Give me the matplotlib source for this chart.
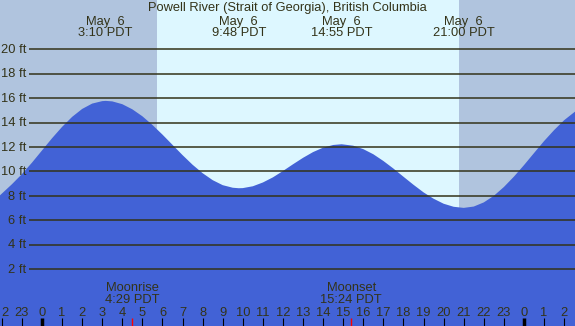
import matplotlib
matplotlib.use("Agg")
import matplotlib.pyplot as plt

# tide heights (ft), hours from midnight May 6
hours = [-2.09, -1.5, -1.0, -0.5, 0.0, 0.5, 1.0, 1.5, 2.0, 2.5, 3.0, 3.17,
         3.5, 4.0, 4.5, 5.0, 5.5, 6.0, 6.5, 7.0, 7.5, 8.0, 8.5, 9.0, 9.5, 9.8,
         10.0, 10.5, 11.0, 11.5, 12.0, 12.5, 13.0, 13.5, 14.0, 14.5, 14.92,
         15.5, 16.0, 16.5, 17.0, 17.5, 18.0, 18.5, 19.0, 19.5, 20.0, 20.5, 21.0,
         21.5, 22.0, 22.5, 23.0, 23.5, 24.0, 24.5, 25.0, 25.5, 26.0, 26.54]
heights = [8.05, 8.95, 9.78, 10.72, 11.72, 12.72, 13.65, 14.47, 15.12, 15.56, 15.76, 15.78,
           15.74, 15.51, 15.09, 14.52, 13.81, 13.02, 12.18, 11.34, 10.55, 9.86, 9.29, 8.88, 8.67, 8.63,
           8.64, 8.79, 9.10, 9.52, 10.04, 10.59, 11.12, 11.59, 11.95, 12.17, 12.23,
           12.11, 11.83, 11.41, 10.86, 10.24, 9.57, 8.91, 8.29, 7.77, 7.36, 7.11, 7.02,
           7.13, 7.47, 8.01, 8.73, 9.58, 10.52, 11.51, 12.49, 13.39, 14.20, 14.90]

levels = [2, 4, 6, 8, 10, 12, 14, 16, 18, 20]

sunrise = 5.73
sunset = 20.77

event_hours = [3.17, 9.80, 14.92, 21.00]
event_dates = ["May  6", "May  6", "May  6", "May  6"]
event_times = ["3:10 PDT", "9:48 PDT", "14:55 PDT", "21:00 PDT"]

moon_hours = [4.48, 15.40]
moon_names = ["Moonrise", "Moonset"]
moon_times = ["4:29 PDT", "15:24 PDT"]

hour_ticks = list(range(-2, 27))

title = "Powell River (Strait of Georgia), British Columbia"

night = "#B0C4DE"
day = "#DDF7FF"
water = "#4262D6"
ink = "#333319"

plt.rcParams["font.family"] = ["Liberation Sans", "DejaVu Sans"]
plt.rcParams["font.size"] = 9.3

fig = plt.figure(figsize=(5.75, 3.26), dpi=100)
ax = fig.add_axes([0, 0, 1, 1])
ax.set_xlim(-2.09, 26.54)
ax.set_ylim(-2.65, 24.04)
ax.axis("off")

ax.axvspan(-3, sunrise, color=night, lw=0)
ax.axvspan(sunrise, sunset, color=day, lw=0)
ax.axvspan(sunset, 28, color=night, lw=0)

ax.fill_between(hours, -3, heights, color=water, lw=0)

ax.hlines(levels, -0.65, 27, color=ink, lw=1.1)
for lv in levels:
    ax.text(-0.8, lv - 0.3, f"{lv} ft", ha="right", va="baseline", color=ink)

ax.text(12.2, 23.1, title, ha="center", va="baseline", color=ink)
for h, d, t in zip(event_hours, event_dates, event_times):
    ax.text(h, 22.0, d, ha="center", va="baseline", color=ink)
    ax.text(h, 21.1, t, ha="center", va="baseline", color=ink)

for h, n, t in zip(moon_hours, moon_names, moon_times):
    ax.text(h, 0.23, n, ha="center", va="baseline", color=ink)
    ax.text(h, -0.78, t, ha="center", va="baseline", color=ink)
    ax.vlines(h, -3, -1.98, color="red", lw=1)

for h in hour_ticks:
    lab = str(h % 24)
    if h == hour_ticks[0]:
        # the left edge clips this label down to its last digit
        ax.text(h + 0.14, -1.82, lab[-1], ha="center", va="baseline", color=ink)
    else:
        ax.text(h, -1.82, lab, ha="center", va="baseline", color=ink)
    if h % 24 == 0:
        ax.vlines(h, -3, -1.98, color="black", lw=2.5)
    else:
        ax.vlines(h, -3, -1.98, color="black", lw=0.8)

fig.savefig("out.png", dpi=100)
